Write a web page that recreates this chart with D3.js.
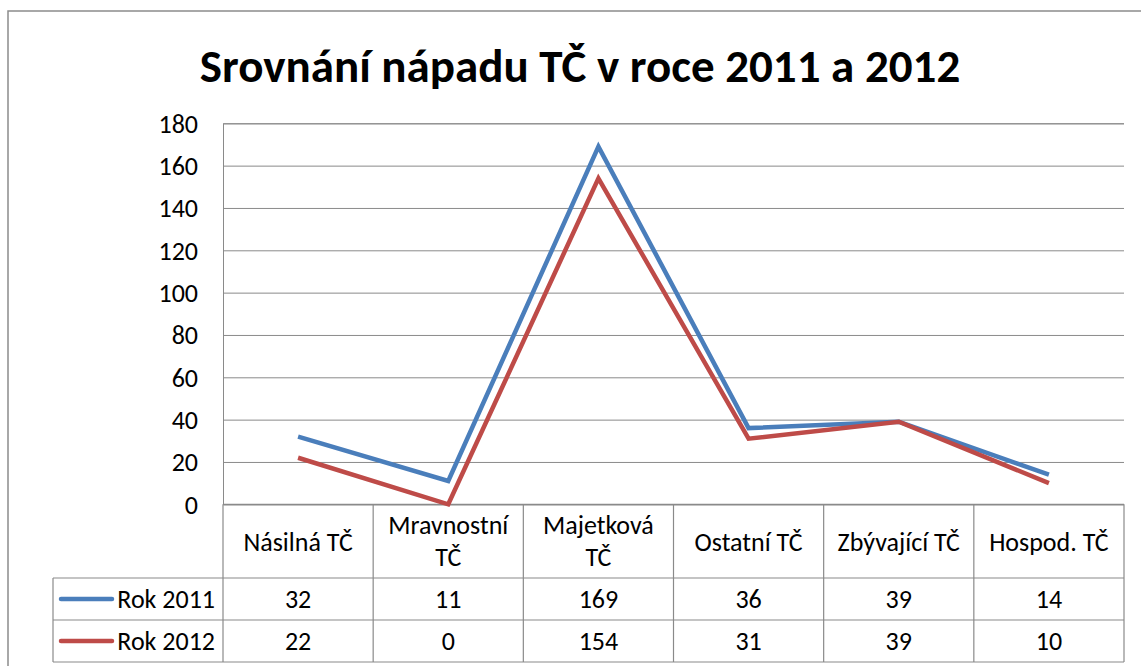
<!DOCTYPE html>
<html><head><meta charset="utf-8">
<script src="https://cdn.jsdelivr.net/npm/d3@7"></script>
<style>body{margin:0;background:#fff;}svg{display:block;font-family:Carlito,Lato,"Noto Sans",sans-serif;}</style>
</head><body>
<svg id="c" width="1141" height="666"></svg>
<script>
const title = "Srovnání nápadu TČ v roce 2011 a 2012";
const categories = [["Násilná TČ"],["Mravnostní","TČ"],["Majetková","TČ"],["Ostatní TČ"],["Zbývající TČ"],["Hospod. TČ"]];
const seriesNames = ["Rok 2011","Rok 2012"];
const values2011 = [32, 11, 169, 36, 39, 14];
const values2012 = [22, 0, 154, 31, 39, 10];
const colors = ["#4A7EBB", "#BE4B48"];
const yTicks = [0,20,40,60,80,100,120,140,160,180];

const svg = d3.select("#c");
const L = 223, R = 1124, T = 123.3, B = 504.3;
const tableRows = [578, 620, 662];
const legendLeft = 53;
const gridColor = "#8a8a8a";
const fs = 26;

// outer border
svg.append("rect").attr("x",8).attr("y",11).attr("width",1200).attr("height",700)
  .attr("fill","none").attr("stroke","#8c8c8c").attr("stroke-width",1.5);

// title
svg.append("text").attr("x",580).attr("y",82).attr("text-anchor","middle")
  .attr("font-weight","bold").attr("font-size",47).attr("fill","#000").text(title);

const x = d3.scaleBand().domain(d3.range(categories.length)).range([L,R]).padding(0);
const y = d3.scaleLinear().domain([0,180]).range([B,T]);
const cx = i => x(i) + x.bandwidth()/2;

// gridlines + y axis
const yAxis = d3.axisLeft(y).tickValues(yTicks).tickSize(-(R-L)).tickPadding(25);
const ga = svg.append("g").attr("transform",`translate(${L},0)`).call(yAxis);
ga.select(".domain").attr("stroke",gridColor);
ga.selectAll(".tick line").attr("stroke",gridColor).attr("stroke-width",1);
ga.selectAll(".tick text").attr("font-size",fs).attr("fill","#000").attr("font-family","Carlito,Lato,'Noto Sans',sans-serif").attr("dy","0.34em");

// table lines
const tl = svg.append("g").attr("stroke",gridColor).attr("stroke-width",1.2).attr("fill","none");
tl.append("line").attr("x1",L).attr("x2",R).attr("y1",B).attr("y2",B);
tableRows.forEach(r => tl.append("line").attr("x1",legendLeft).attr("x2",R).attr("y1",r).attr("y2",r));
d3.range(categories.length+1).forEach(i => {
  const xx = i < categories.length ? x(i) : R;
  tl.append("line").attr("x1",xx).attr("x2",xx).attr("y1",B).attr("y2",tableRows[2]);
});
tl.append("line").attr("x1",legendLeft).attr("x2",legendLeft).attr("y1",tableRows[0]).attr("y2",tableRows[2]);

// category labels
categories.forEach((lines,i) => {
  const t = svg.append("text").attr("text-anchor","middle").attr("font-size",fs).attr("fill","#000");
  if (lines.length === 1) {
    t.append("tspan").attr("x",cx(i)).attr("y",551).text(lines[0]);
  } else {
    t.append("tspan").attr("x",cx(i)).attr("y",534).text(lines[0]);
    t.append("tspan").attr("x",cx(i)).attr("y",566).text(lines[1]);
  }
});

// lines
const series = [values2011, values2012];
const line = d3.line().x((d,i)=>cx(i)).y(d=>y(d));
series.forEach((vals,s) => {
  svg.append("path").datum(vals).attr("d",line).attr("fill","none")
    .attr("stroke",colors[s]).attr("stroke-width",4.5).attr("stroke-linejoin","miter");
});

// table values + legend
series.forEach((vals,s) => {
  const rowMid = (tableRows[s]+tableRows[s+1])/2;
  svg.append("line").attr("x1",61).attr("x2",112).attr("y1",rowMid).attr("y2",rowMid)
    .attr("stroke",colors[s]).attr("stroke-width",4.5).attr("stroke-linecap","round");
  svg.append("text").attr("x",215).attr("y",rowMid).attr("dy","0.34em").attr("text-anchor","end")
    .attr("font-size",fs).attr("fill","#000").text(seriesNames[s]);
  vals.forEach((v,i) => {
    svg.append("text").attr("x",cx(i)).attr("y",rowMid).attr("dy","0.34em").attr("text-anchor","middle")
      .attr("font-size",fs).attr("fill","#000").text(v);
  });
});
</script>
</body></html>
